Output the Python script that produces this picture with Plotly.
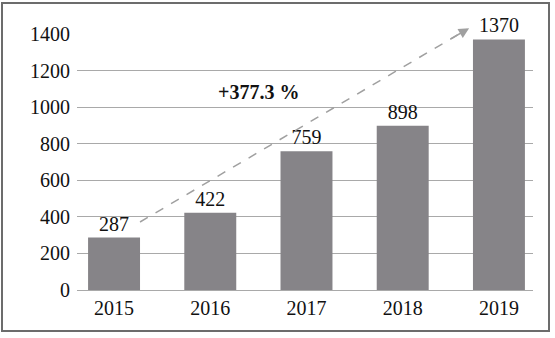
import plotly.graph_objects as go

years = ["2015", "2016", "2017", "2018", "2019"]
values = [287, 422, 759, 898, 1370]
y_ticks = [0, 200, 400, 600, 800, 1000, 1200, 1400]
growth_label = "+377.3 %"
arrow_start = (0.27, 372)
arrow_end = (3.69, 1432)

W, H = 555, 338
L, R, T, B = 77, 22, 34, 48
pw, ph = W - L - R, H - T - B

font_family = "Liberation Serif"
fs = 20

fig = go.Figure()
fig.add_trace(go.Bar(
    x=list(range(len(years))), y=values,
    marker=dict(color="#868488", line=dict(width=0)),
    width=0.54,
    text=[str(v) for v in values], textposition="outside",
    textfont=dict(family=font_family, size=fs, color="#111"),
    cliponaxis=False, hoverinfo="skip",
))

fig.update_layout(
    template="none",
    width=W, height=H,
    margin=dict(l=L, r=R, t=T, b=B, autoexpand=False),
    plot_bgcolor="white", paper_bgcolor="white",
    showlegend=False,
    font=dict(family=font_family, size=fs, color="#111"),
    xaxis=dict(
        tickmode="array", tickvals=list(range(len(years))), ticktext=years,
        range=[-0.385, 4.354], showgrid=False, zeroline=False,
        showline=False, ticks="", fixedrange=True, automargin=False,
        ticklabelstandoff=4,
        tickfont=dict(family=font_family, size=fs, color="#111"),
    ),
    yaxis=dict(
        range=[0, 1400], tickvals=y_ticks, showgrid=True,
        gridcolor="#a9a9a9", gridwidth=1, zeroline=True,
        zerolinecolor="#a9a9a9", zerolinewidth=1, ticks="",
        showline=False, ticklabelstandoff=6, automargin=False, fixedrange=True,
        tickfont=dict(family=font_family, size=fs, color="#111"),
    ),
)

# dashed arrow shaft
fig.add_shape(type="line", xref="x", yref="y",
              x0=arrow_start[0], y0=arrow_start[1],
              x1=arrow_end[0] - 0.12, y1=arrow_end[1] - 37,
              line=dict(color="#a0a0a0", width=1.5, dash="dash"))
# arrow head
fig.add_annotation(x=arrow_end[0], y=arrow_end[1], ax=arrow_end[0] - 0.2, ay=arrow_end[1] - 62,
                   xref="x", yref="y", axref="x", ayref="y",
                   showarrow=True, arrowhead=2, arrowsize=1.3, arrowwidth=1.6,
                   arrowcolor="#a0a0a0", text="")
fig.add_annotation(x=1.5, y=1085, xref="x", yref="y", text="<b>" + growth_label + "</b>",
                   showarrow=False, font=dict(family=font_family, size=fs, color="#111"))

# outer border
fig.add_shape(type="rect", xref="paper", yref="paper", layer="above",
              x0=(2 - L) / pw, x1=(549 - L) / pw,
              y0=(H - B - 331) / ph, y1=(H - B - 3) / ph,
              line=dict(color="#6c6c6c", width=2))

post = (
    "document.documentElement.style.margin='0';"
    "document.documentElement.style.padding='0';"
    "document.documentElement.style.overflow='hidden';"
    "document.body.style.margin='0';"
    "document.body.style.padding='0';"
    "document.body.style.overflow='hidden';"
)
fig.write_html("out.html", config={"displayModeBar": False}, post_script=post)
